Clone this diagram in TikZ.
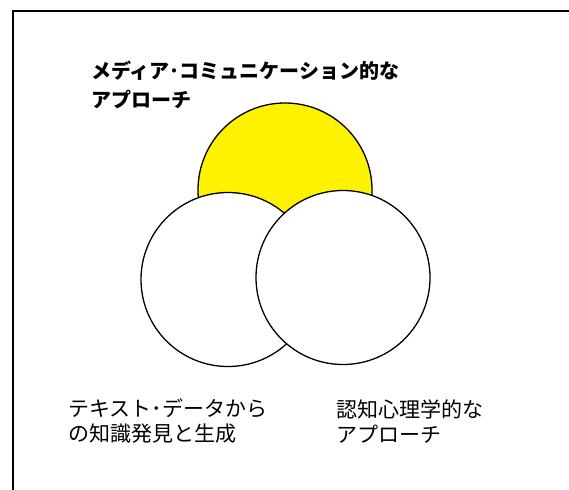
\documentclass[tikz,border=0pt]{standalone}
\usepackage{fontspec}
\newfontfamily\jp{Noto Sans CJK JP}
\newcommand{\hdot}{\makebox[0.5em][c]{･}}
\begin{document}
\begin{tikzpicture}[x=1pt,y=-1pt,
  frameline/.style={line width=2pt,line cap=rect},
  venn/.style={circle,draw=black,line width=1.3pt,minimum size=174pt,inner sep=0pt},
  label/.style={anchor=base west,inner sep=0pt,align=left}]
\useasboundingbox (0,0) rectangle (569,489);
\fill[white] (0,0) rectangle (569,489);
\draw[frameline] (13,489) -- (13,11) -- (569,11);
\node[venn,fill=yellow] (media) at (285,190) {};
\node[venn,fill=white] (text) at (228,279.5) {};
\node[venn,fill=white] (cog) at (343,277.5) {};
\node[label,font={\jp\bfseries\fontsize{20pt}{29pt}\selectfont}] (t1) at (91,108) {メディア\hdot コミュニケーション的な\\アプローチ};
\node[label,font={\jp\fontsize{21pt}{25pt}\selectfont}] (t2) at (68,441) {テキスト\hdot データから\\の知識発見と生成};
\node[label,font={\jp\fontsize{21pt}{25pt}\selectfont}] (t3) at (336,442) {認知心理学的な\\アプローチ};
\end{tikzpicture}
\end{document}
